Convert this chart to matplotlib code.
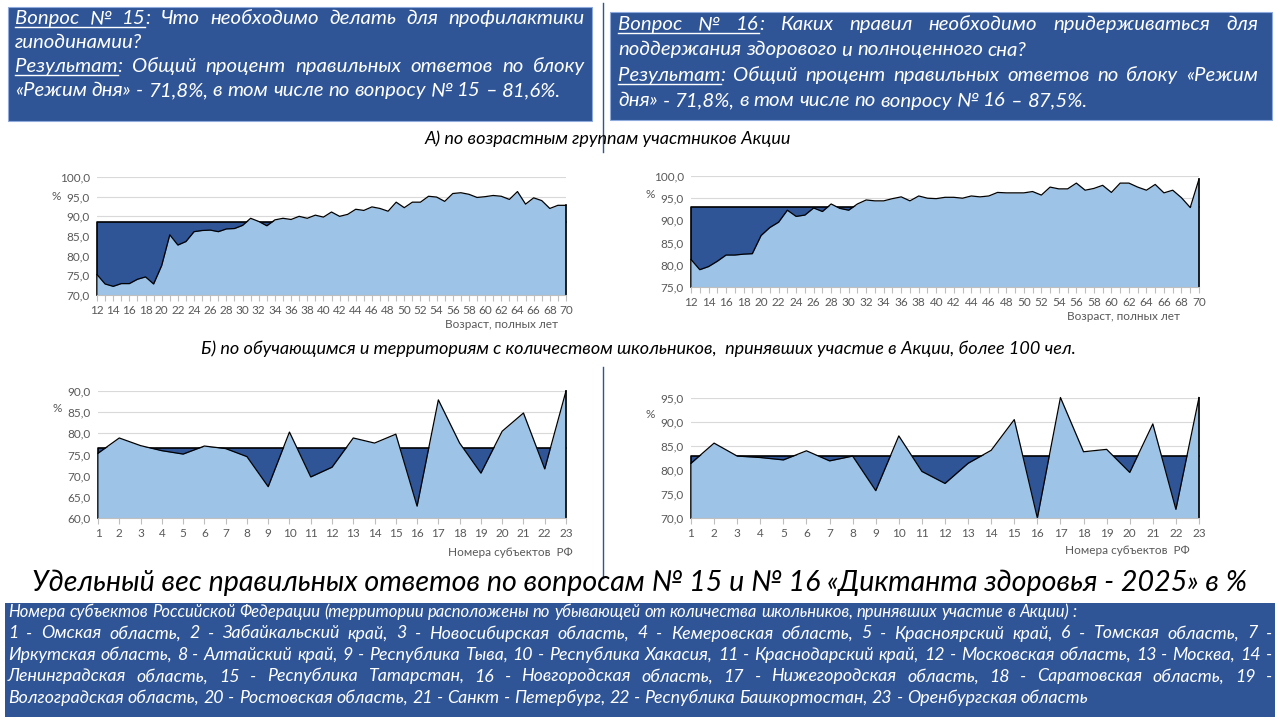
import matplotlib
matplotlib.use('Agg')
import matplotlib.pyplot as plt
from matplotlib.patches import Rectangle
from matplotlib.lines import Line2D
from matplotlib.ticker import FuncFormatter

# data
ages = list(range(12, 71))
q15_age = [75.2, 72.8, 72.2, 72.9, 72.9, 74.0, 74.6, 72.8, 77.5, 85.3,
           82.7, 83.6, 86.1, 86.4, 86.5, 86.1, 86.8, 86.9, 87.7, 89.5,
           88.7, 87.6, 89.1, 89.5, 89.2, 90.0, 89.5, 90.3, 89.8, 91.1,
           90.0, 90.5, 91.8, 91.5, 92.4, 92.0, 91.3, 93.6, 92.2, 93.6,
           93.6, 95.1, 94.9, 93.8, 95.8, 96.0, 95.6, 94.8, 95.0, 95.3,
           95.1, 94.3, 96.3, 93.1, 94.7, 94.0, 92.0, 92.8, 92.8]
q16_age = [81.2, 78.9, 79.6, 80.8, 82.2, 82.2, 82.4, 82.5, 86.6, 88.4,
           89.6, 92.3, 90.9, 91.2, 92.8, 92.0, 93.7, 92.7, 92.3, 93.7,
           94.6, 94.4, 94.4, 94.9, 95.3, 94.4, 95.5, 95.0, 94.9, 95.2,
           95.2, 95.0, 95.5, 95.3, 95.5, 96.3, 96.2, 96.2, 96.2, 96.5,
           95.7, 97.5, 97.1, 97.1, 98.4, 96.8, 97.2, 97.9, 96.3, 98.4,
           98.4, 97.5, 96.8, 98.1, 96.2, 96.8, 95.1, 92.9, 99.3]
q15_age_avg = 88.5
q16_age_avg = 93.1

regions = list(range(1, 24))
q15_reg = [75.3, 78.9, 77.1, 75.9, 75.1, 77.0, 76.4, 74.5, 67.4, 80.3, 69.7, 72.0,
           78.9, 77.7, 79.8, 62.8, 87.9, 77.7, 70.6, 80.5, 84.8, 71.6, 90.0]
q16_reg = [81.4, 85.6, 82.9, 82.6, 82.1, 84.0, 81.9, 82.9, 75.7, 87.1, 79.7, 77.2,
           81.4, 84.1, 90.5, 70.0, 95.1, 83.8, 84.3, 79.5, 89.6, 71.8, 95.1]
q15_reg_avg = 76.5
q16_reg_avg = 82.9

box1_lines = ["_Вопрос № 15_: Что необходимо делать для профилактики",
              "гиподинамии?",
              "_Результат_: Общий процент правильных ответов по блоку",
              "«Режим дня» - 71,8%, в том числе по вопросу № 15 – 81,6%."]
box2_lines = ["_Вопрос № 16_: Каких правил необходимо придерживаться для",
              "поддержания здорового и полноценного сна?",
              "_Результат_: Общий процент правильных ответов по блоку «Режим",
              "дня» - 71,8%, в том числе по вопросу № 16 – 87,5%."]
legend_lines = [
    "Номера субъектов Российской Федерации (территории расположены по убывающей от количества школьников, принявших участие в Акции) :",
    "1 - Омская область, 2 - Забайкальский край, 3 - Новосибирская область, 4 - Кемеровская область, 5 - Красноярский край, 6 - Томская область, 7 -",
    "Иркутская область, 8 - Алтайский край, 9 - Республика Тыва, 10 - Республика Хакасия, 11 - Краснодарский край, 12 - Московская область, 13 - Москва, 14 -",
    "Ленинградская область, 15 - Республика Татарстан, 16 - Новгородская область, 17 - Нижегородская область, 18 - Саратовская область, 19 -",
    "Волгоградская область, 20 - Ростовская область, 21 - Санкт - Петербург, 22 - Республика Башкортостан, 23 - Оренбургская область"]

DARK = '#2F5597'
LIGHT = '#9DC3E6'
GREY = '#595959'
FONT = ['Lato', 'DejaVu Sans']

W, H = 1280, 720
fig = plt.figure(figsize=(12.8, 7.2), dpi=100)
renderer = fig.canvas.get_renderer()


def fx(px):
    return px / W


def fy(py):
    return 1 - py / H


def text_w(s, **kw):
    t = fig.text(0, 0, s, **kw)
    w = t.get_window_extent(renderer).width
    t.remove()
    return w


def parse(s):
    # '_' toggles underline
    words = []
    under = False
    for w in s.split(' '):
        parts = []
        buf = ''
        for ch in w:
            if ch == '_':
                if buf:
                    parts.append((buf, under))
                buf = ''
                under = not under
            else:
                buf += ch
        if buf:
            parts.append((buf, under))
        words.append(parts)
    return words


def underline(x0, x1, y, color):
    fig.add_artist(Line2D([fx(x0), fx(x1)], [fy(y + 3)] * 2, color=color, lw=1))


def draw_line(s, x0, x1, y, justify, **kw):
    words = parse(s)
    widths = [[text_w(p, **kw) for p, u in word] for word in words]
    total = sum(sum(ws) for ws in widths)
    space = text_w('a a', **kw) - text_w('aa', **kw)
    natural = total + space * (len(words) - 1)
    if natural > x1 - x0:
        kw['fontsize'] = kw['fontsize'] * (x1 - x0) / natural
        return draw_line(s, x0, x1, y, justify, **kw)
    if justify and len(words) > 1:
        gap = (x1 - x0 - total) / (len(words) - 1)
    else:
        gap = space
    x = x0
    ul = None
    color = kw.get('color', 'black')
    for word, ws in zip(words, widths):
        for (p, u), w in zip(word, ws):
            fig.text(fx(x), fy(y), p, ha='left', va='baseline', **kw)
            if u:
                if ul is None:
                    ul = [x, x + w]
                ul[1] = x + w
            elif ul is not None:
                underline(ul[0], ul[1], y, color)
                ul = None
            x += w
        x += gap
    if ul is not None:
        underline(ul[0], ul[1], y, color)


def area_chart(rect, x, y, avg, ylim, xlabels, pct_y, xtitle, xtitle_pos):
    ax = fig.add_axes(rect)
    ax.fill_between(x, ylim[0], avg, color=DARK, lw=0, zorder=2)
    ax.plot([x[0], x[0], x[-1]], [ylim[0], avg, avg], color='black', lw=1.2,
            zorder=3, clip_on=False)
    ax.fill_between(x, ylim[0], y, color=LIGHT, lw=0, zorder=4)
    ax.plot(x, y, color='black', lw=0.9, zorder=5, clip_on=False)
    ax.plot([x[-1], x[-1]], [ylim[0], y[-1]], color='black', lw=1.2, zorder=5,
            clip_on=False)
    ax.set_xlim(x[0], x[-1])
    ax.set_ylim(*ylim)
    ax.set_yticks(range(ylim[0], ylim[1] + 1, 5))
    ax.yaxis.set_major_formatter(FuncFormatter(lambda v, p: f'{v:.1f}'.replace('.', ',')))
    ax.set_xticks(x)
    ax.set_xticklabels(xlabels)
    ax.yaxis.grid(True, color='#D9D9D9', lw=0.8, zorder=1)
    ax.set_axisbelow(True)
    for side in ['left', 'top', 'right']:
        ax.spines[side].set_visible(False)
    ax.spines['bottom'].set_color('#BFBFBF')
    ax.spines['bottom'].set_zorder(6)
    ax.tick_params(axis='x', length=4, color='#BFBFBF', labelcolor=GREY,
                   labelsize=8.5, pad=3)
    ax.tick_params(axis='y', length=0, labelcolor=GREY, labelsize=8.5, pad=5)
    for lab in ax.get_xticklabels() + ax.get_yticklabels():
        lab.set_family(FONT)
    fig.text(fx(rect[0] * W - 41), fy(pct_y), '%', color=GREY, fontsize=8.5,
             family=FONT, ha='center', va='center')
    fig.text(fx(xtitle_pos[0]), fy(xtitle_pos[1]), xtitle, color=GREY,
             fontsize=8.5, family=FONT, ha='right', va='center')
    return ax


# top question boxes
box_kw = dict(color='white', fontsize=14.7, style='italic', family=FONT)
fig.add_artist(Rectangle((fx(8), fy(121)), fx(584), 114 / H, transform=fig.transFigure,
                         facecolor=DARK, edgecolor='#8FAADC', lw=0.8))
fig.add_artist(Rectangle((fx(610), fy(120)), fx(662), 108 / H, transform=fig.transFigure,
                         facecolor=DARK, edgecolor='#8FAADC', lw=0.8))
for i, (s, j) in enumerate(zip(box1_lines, [True, False, True, False])):
    draw_line(s, 15, 585, 24 + 24 * i, j, **box_kw)
for i, (s, j) in enumerate(zip(box2_lines, [True, False, True, False])):
    draw_line(s, 618, 1258, 30 + 25.5 * i, j, **box_kw)

# dividers
fig.add_artist(Line2D([fx(603)] * 2, [fy(3), fy(152)], color=DARK, lw=1))
fig.add_artist(Line2D([fx(603)] * 2, [fy(367), fy(578)], color=DARK, lw=1))

fig.text(fx(608), fy(139), 'А) по возрастным группам участников Акции',
         fontsize=13, style='italic', family=FONT, ha='center', va='center')
fig.text(fx(638), fy(349),
         'Б) по обучающимся и территориям с количеством школьников,  принявших участие в Акции, более 100 чел.',
         fontsize=13, style='italic', family=FONT, ha='center', va='center')

age_labels = [str(a) if a % 2 == 0 else '' for a in ages]
reg_labels = [str(r) for r in regions]
area_chart([fx(97), fy(295), (566 - 97) / W, (295 - 177) / H], ages, q15_age,
           q15_age_avg, (70, 100), age_labels, 197, 'Возраст, полных лет', (558, 325))
area_chart([fx(691), fy(287), (1199 - 691) / W, (287 - 176) / H], ages, q16_age,
           q16_age_avg, (75, 100), age_labels, 195, 'Возраст, полных лет', (1180, 317))
area_chart([fx(98), fy(518), (566 - 98) / W, (518 - 391) / H], regions, q15_reg,
           q15_reg_avg, (60, 90), reg_labels, 408, 'Номера субъектов  РФ', (573, 553))
area_chart([fx(691), fy(518), (1199 - 691) / W, (518 - 398) / H], regions, q16_reg,
           q16_reg_avg, (70, 95), reg_labels, 415, 'Номера субъектов  РФ', (1190, 550))

fig.text(fx(640), fy(583),
         'Удельный вес правильных ответов по вопросам № 15 и № 16 «Диктанта здоровья - 2025» в %',
         fontsize=20.6, style='italic', family=FONT, ha='center', va='center')

# legend box
fig.add_artist(Rectangle((fx(5), fy(717)), fx(1270), 114 / H, transform=fig.transFigure,
                         facecolor=DARK, edgecolor='none'))
leg_sizes = [12.0, 12.8, 12.8, 12.8, 12.8]
for i, (s, j) in enumerate(zip(legend_lines, [False, True, True, True, False])):
    draw_line(s, 8, 1272, 617 + 21.5 * i, j, color='white', fontsize=leg_sizes[i],
              style='italic', family=FONT)

fig.savefig('out.png', dpi=100)
